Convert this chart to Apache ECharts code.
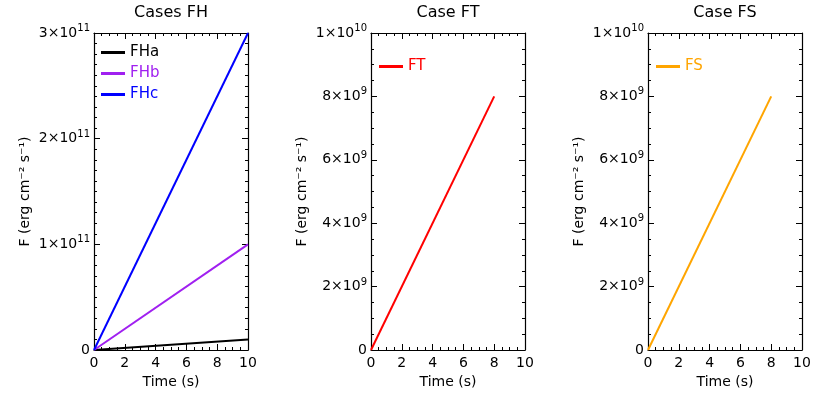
<!DOCTYPE html>
<html><head><meta charset="utf-8">
<script src="https://cdn.jsdelivr.net/npm/echarts@6/dist/echarts.min.js"></script>
<style>html,body{margin:0;padding:0;background:#fff}#c{width:830px;height:415px}</style>
</head><body><div id="c"></div>
<script>
const timeFH = [0, 10];
const FHa = [0, 1e10];
const FHb = [0, 1e11];
const FHc = [0, 3e11];
const timeF = [0, 8];
const FT = [0, 8e9];
const FS = [0, 8e9];
const titles = ['Cases FH', 'Case FT', 'Case FS'];

const F = 'DejaVu Sans, sans-serif';
const chart = echarts.init(document.getElementById('c'));
const lefts = [94, 371, 648];
const grids = lefts.map(l => ({left: l, top: 32, width: 154, height: 318, show: false}));
function sup(exp){ return '{b|×10}{s|' + exp + '}'; }
function fmtFH(v){ if (v === 0) return '0'; return '{b|' + Math.round(v/1e11) + '}' + sup(11); }
function fmtF(v){ if (v === 0) return '0'; if (v >= 1e10) return '{b|1}' + sup(10); return '{b|' + Math.round(v/1e9) + '}' + sup(9); }
const rich = {b:{fontSize:14, fontFamily:F, color:'#000'}, s:{fontSize:10, fontFamily:F, color:'#000', verticalAlign:'top', padding:[0,0,9,0]}};
const xAxis = [], yAxis = [];
const line = {show:true, onZero:false, lineStyle:{color:'#000', width:1.2}};
const tick = {inside:true, length:6, lineStyle:{color:'#000'}};
for (let i=0;i<3;i++){
  xAxis.push({type:'value', gridIndex:i, position:'bottom', min:0, max:10, interval:2, name:'Time (s)', nameLocation:'middle', nameGap:25,
    nameTextStyle:{fontFamily:F, fontSize:14, color:'#000'},
    axisLine:line, axisTick:tick,
    minorTick:{show:true, splitNumber:4, length:3, lineStyle:{color:'#000'}},
    axisLabel:{fontFamily:F, fontSize:14, color:'#000', margin:6}, splitLine:{show:false}});
  xAxis.push({type:'value', gridIndex:i, position:'top', min:0, max:10, interval:2,
    name:titles[i], nameLocation:'middle', nameGap:12, nameTextStyle:{fontFamily:F, fontSize:16, color:'#000'},
    axisLine:line, axisTick:tick,
    minorTick:{show:true, splitNumber:4, length:3, lineStyle:{color:'#000'}},
    axisLabel:{show:false}, splitLine:{show:false}});
  const max = i===0 ? 3e11 : 1e10, itv = i===0 ? 1e11 : 2e9, mn = i===0 ? 10 : 4;
  const fmt = i===0 ? fmtFH : fmtF;
  yAxis.push({type:'value', gridIndex:i, position:'left', min:0, max:max, interval:itv, name:'F (erg cm⁻² s⁻¹)', nameLocation:'middle', nameGap:62,
    nameTextStyle:{fontFamily:F, fontSize:14, color:'#000'},
    axisLine:line, axisTick:tick,
    minorTick:{show:true, splitNumber:mn, length:3, lineStyle:{color:'#000'}},
    axisLabel:{formatter:fmt, rich:rich, fontFamily:F, fontSize:14, color:'#000', margin:4}, splitLine:{show:false}});
  yAxis.push({type:'value', gridIndex:i, position:'right', min:0, max:max, interval:itv,
    axisLine:line, axisTick:tick,
    minorTick:{show:true, splitNumber:mn, length:3, lineStyle:{color:'#000'}},
    axisLabel:{show:false}, splitLine:{show:false}});
}
function mk(name, xs, ys, gi, color){
  return {name:name, type:'line', xAxisIndex:gi*2, yAxisIndex:gi*2, data:xs.map((x,k)=>[x, ys[k]]),
    showSymbol:false, lineStyle:{color:color, width:2}, itemStyle:{color:color}, animation:false};
}
const series = [
  mk('FHa', timeFH, FHa, 0, '#000000'),
  mk('FHb', timeFH, FHb, 0, '#a020f0'),
  mk('FHc', timeFH, FHc, 0, '#0000ff'),
  mk('FT', timeF, FT, 1, '#ff0000'),
  mk('FS', timeF, FS, 2, '#ffa500')
];
const option = {
  animation:false,
  grid:grids, xAxis:xAxis, yAxis:yAxis, series:series,
  legend:[
    {left:96, top:40, orient:'vertical', itemWidth:24, itemHeight:3, itemGap:6, icon:'rect',
      data:[{name:'FHa', textStyle:{color:'#000'}},{name:'FHb', textStyle:{color:'#a020f0'}},{name:'FHc', textStyle:{color:'#0000ff'}}],
      textStyle:{fontFamily:F, fontSize:15}},
    {left:374, top:54, itemWidth:24, itemHeight:3, icon:'rect', data:['FT'], textStyle:{fontFamily:F, fontSize:15, color:'#ff0000'}},
    {left:651, top:54, itemWidth:24, itemHeight:3, icon:'rect', data:['FS'], textStyle:{fontFamily:F, fontSize:15, color:'#ffa500'}}
  ]
};
chart.setOption(option);
</script></body></html>
